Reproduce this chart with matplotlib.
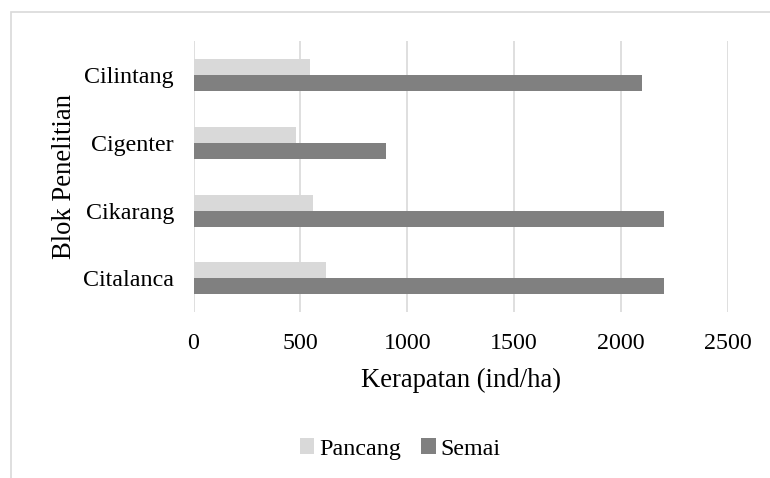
#!/usr/bin/env python
# encoding: utf-8

### horizontal grouped bars: density (ind/ha) per research block

import numpy as np
import matplotlib
matplotlib.use("Agg")
import matplotlib.pyplot as plt
from matplotlib.patches import Rectangle

## data (bottom to top)
blocks = ["Citalanca", "Cikarang", "Cigenter", "Cilintang"]
pancang = [620, 560, 480, 545]
semai = [2200, 2200, 900, 2100]
xticks = [0, 500, 1000, 1500, 2000, 2500]

## style
plt.rcParams['font.family'] = ['Liberation Serif', 'DejaVu Serif']
c_pancang = "#d9d9d9"
c_semai = "#808080"
c_grid = "#d9d9d9"
fs = 17.3     # ticks, legend
fs_lab = 19.2 # axis titles

W, H = 770, 478
fig = plt.figure(figsize=(W / 100, H / 100), dpi=100)

# chart frame (cropped on the right/bottom in the reference)
fig.patches.append(Rectangle((11 / W, -0.1), 2.0, 1 - 12 / H + 0.1, transform=fig.transFigure,
                             fill=False, edgecolor=c_grid, linewidth=1.2))

ax = fig.add_axes([193.5 / W, 1 - 312.3 / H, (727.7 - 193.5) / W, (312.3 - 41) / H])

y = np.arange(len(blocks))
h = 0.236
ax.barh(y + h / 2, pancang, height=h, color=c_pancang, label="Pancang", zorder=3)
ax.barh(y - h / 2, semai, height=h, color=c_semai, label="Semai", zorder=3)

ax.set_xlim(0, 2500)
ax.set_ylim(-0.5, len(blocks) - 0.5)
ax.set_xticks(xticks)
ax.set_xticklabels([str(t) for t in xticks], fontsize=fs)
ax.set_yticks(y)
ax.set_yticklabels(blocks, fontsize=fs)
ax.tick_params(axis='x', length=0, pad=15)
ax.tick_params(axis='y', length=0, pad=14)
for s in ax.spines.values():
	s.set_visible(False)
ax.grid(axis='x', color=c_grid, linewidth=1.2, zorder=0)
ax.set_axisbelow(True)

ax.set_xlabel("Kerapatan (ind/ha)", fontsize=fs_lab, labelpad=10)
ax.set_ylabel("Blok Penelitian", fontsize=fs_lab, labelpad=4)

fig.legend(loc='center', bbox_to_anchor=(400 / W, 1 - 449 / H), ncol=2, frameon=False,
           fontsize=fs, handlelength=0.6, handleheight=0.6, handletextpad=0.2, columnspacing=0.85)

fig.savefig("out.png", dpi=100)
